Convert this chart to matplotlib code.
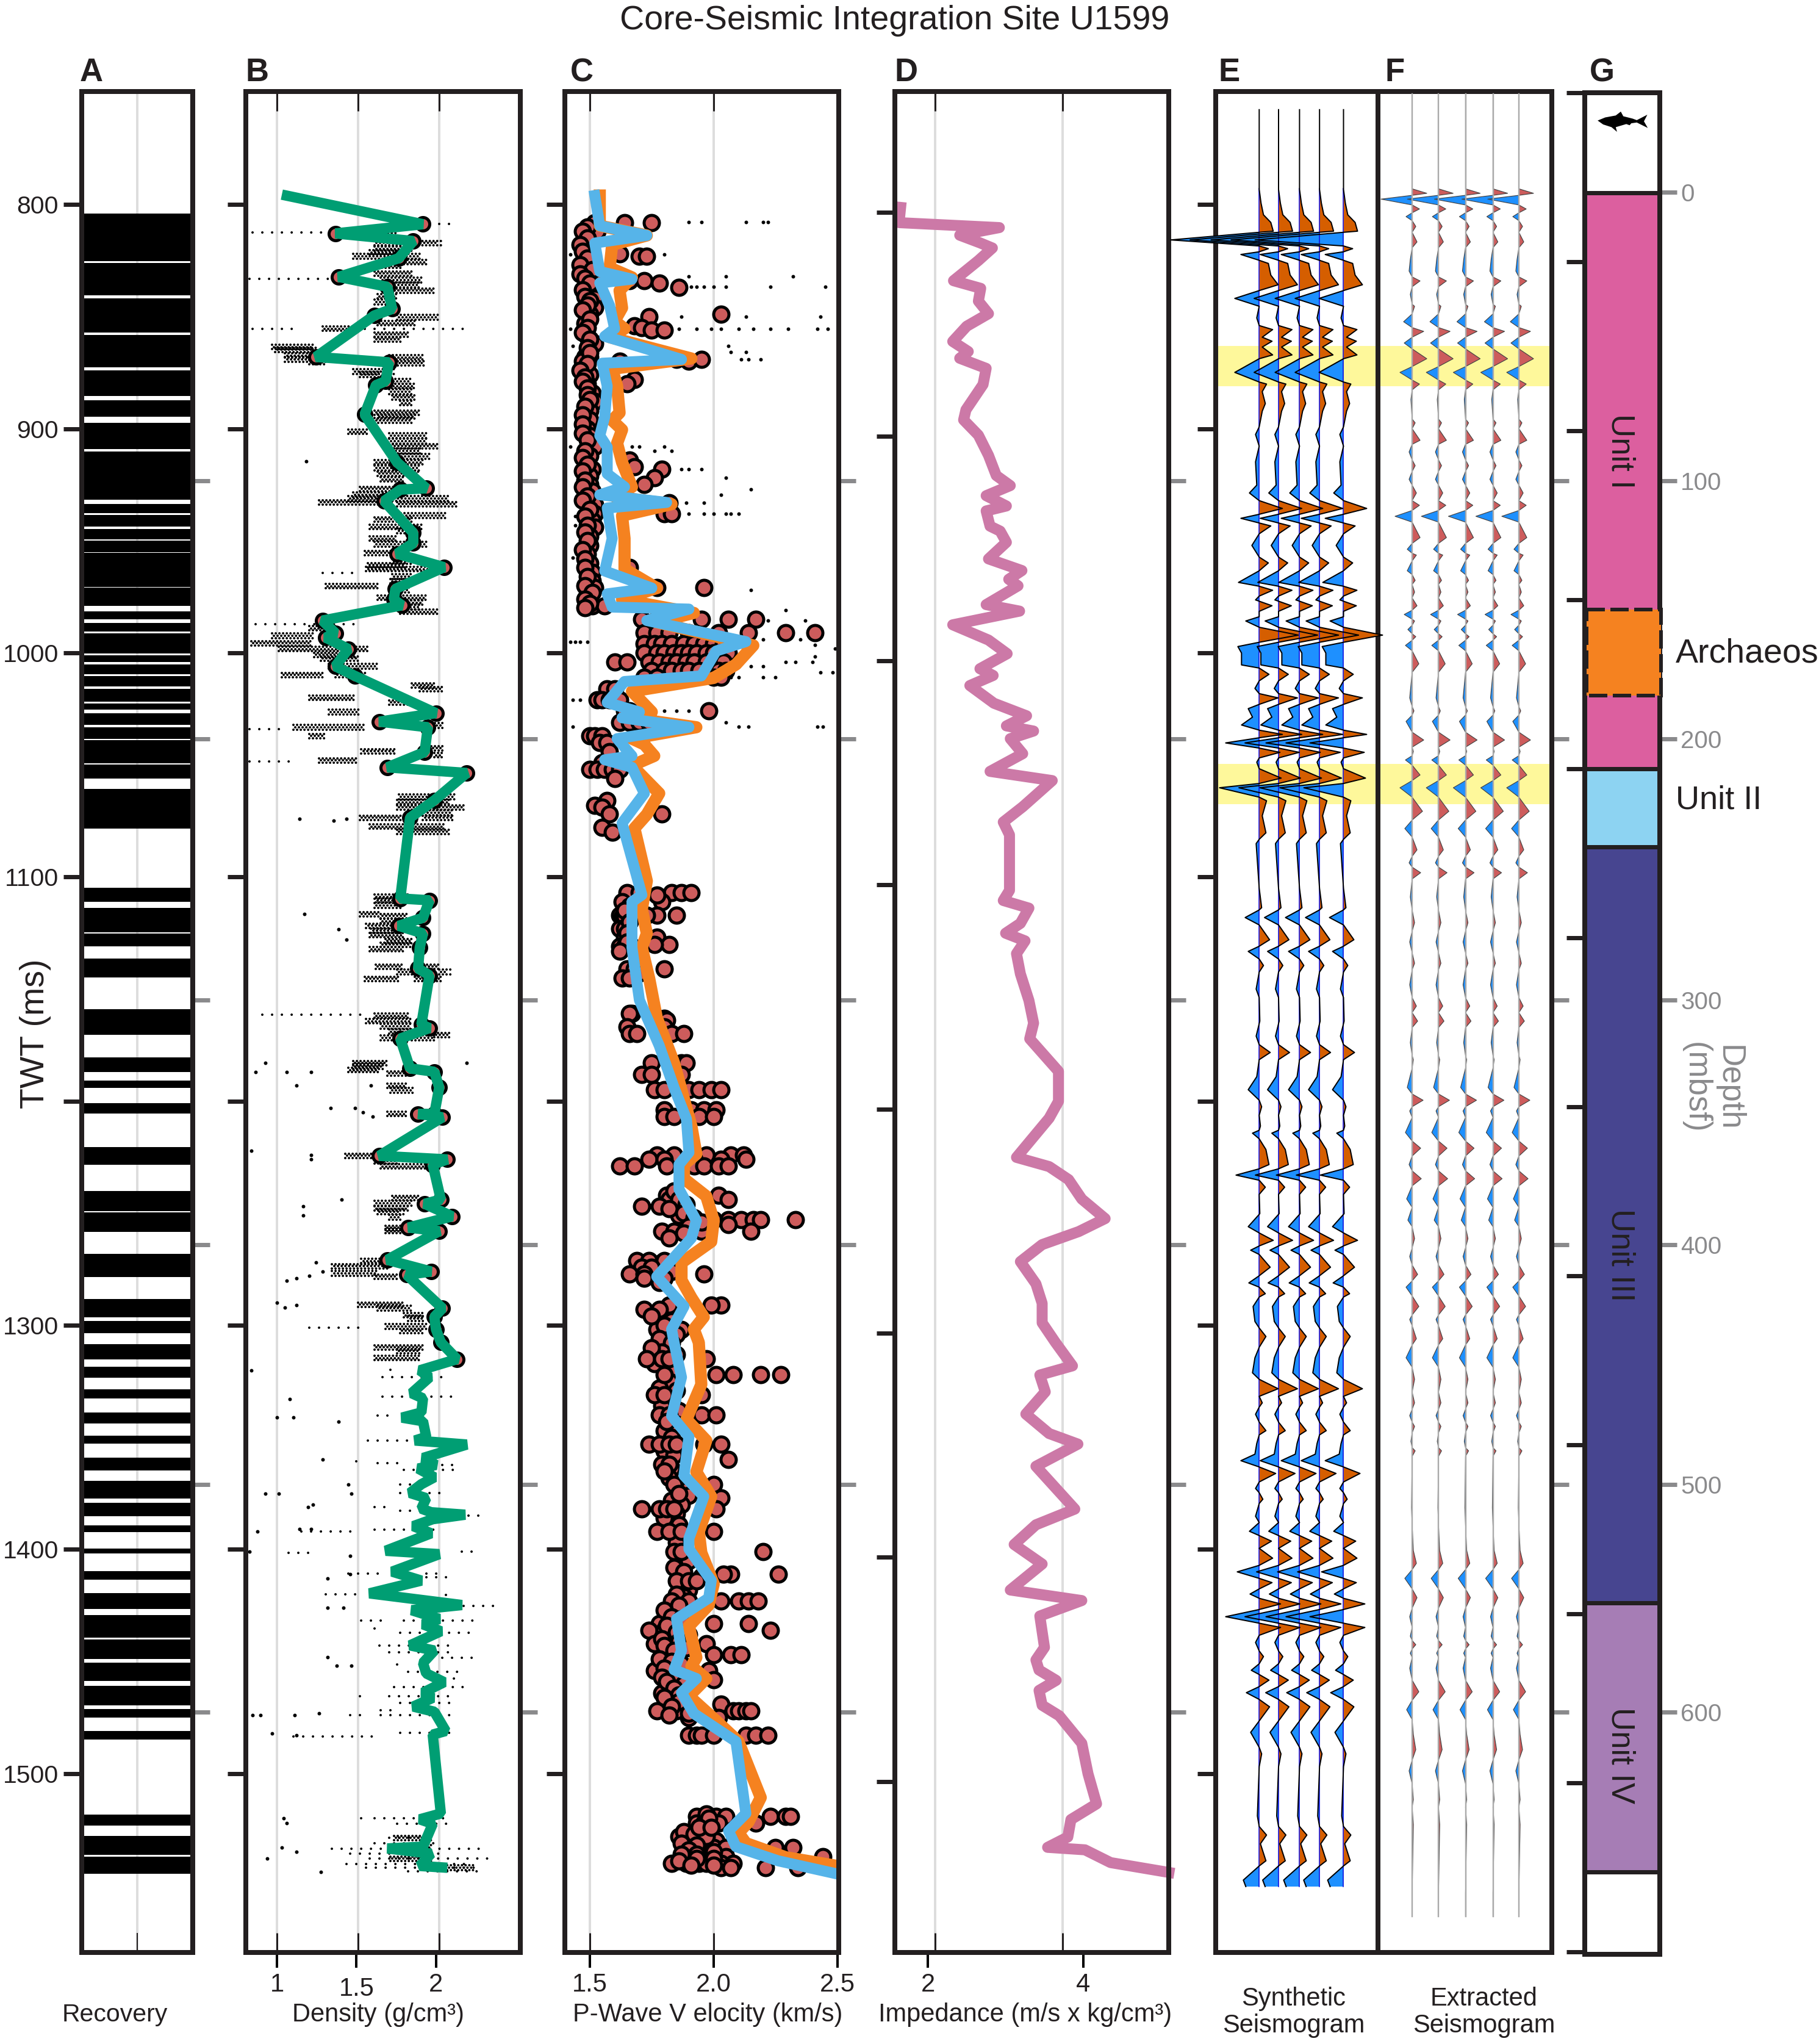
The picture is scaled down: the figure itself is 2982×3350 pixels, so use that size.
import numpy as np
import matplotlib
matplotlib.use("Agg")
import matplotlib.pyplot as plt
from matplotlib.patches import Rectangle, Polygon

plt.rcParams['font.family'] = ['Liberation Sans', 'DejaVu Sans']

# ---------- A: recovered intervals (top, bottom TWT ms)
recovery = [(804.0,825.2),(826.1,840.6),(841.9,857.1),(858.2,872.6),(874.0,885.5),(887.3,894.7),(897.4,909.2),(910.3,931.8),
(933.6,937.6),(938.5,943.7),(944.8,949.4),(950.0,955.2),(955.4,970.6),(970.8,979.1),(981.6,985.0),(986.6,990.4),(991.3,1000.4),
(1001.0,1004.2),(1005.1,1009.6),(1010.3,1015.0),(1016.2,1021.8),(1022.7,1025.2),(1027.0,1032.2),(1033.1,1038.5),(1039.0,1049.3),
(1049.8,1056.1),(1060.8,1078.4),(1104.8,1111.2),(1113.9,1124.7),(1125.2,1131.0),(1136.4,1144.8),(1159.0,1170.5),(1180.6,1186.9),
(1190.8,1194.2),(1200.9,1205.6),(1220.5,1228.5),(1240.2,1249.1),(1249.6,1258.2),(1268.1,1278.5),(1288.4,1296.5),(1298.0,1303.5),
(1308.5,1315.2),(1318.6,1323.3),(1328.5,1332.7),(1338.9,1343.9),(1349.3,1352.7),(1359.0,1364.7),(1369.4,1377.4),(1379.3,1385.2),
(1389.2,1392.3),(1399.6,1401.7),(1409.7,1413.4),(1419.4,1426.6),(1429.3,1439.4),(1440.2,1448.8),(1450.6,1458.7),(1460.8,1469.6),
(1471.2,1475.1),(1481.1,1484.7),(1518.3,1523.2),(1527.7,1536.3),(1537.0,1544.8)]

# ---------- B: density
density_twt = [795.6,808.8,812.9,816.3,824.0,832.3,836.7,846.6,849.5,868.0,870.4,878.8,880.6,893.7,915.0,926.6,927.2,932.3,946.5,951.1,955.8,961.8,971.5,976.2,978.8,985.6,991.2,993.2,998.3,1006.0,1010.3,1026.9,1030.7,1033.2,1044.3,1051.1,1053.6,
1065.8,1073.6,1109.6,1110.4,1118.2,1121.8,1125.2,1131.5,1140.8,1143.9,1165.8,1167.4,1172.1,1185.4,1186.9,1193.9,1205.7,1205.7,1207.2,1224.4,1226.0,1228.3,1243.9,1245.8,1251.4,1256.4,1258.0,1270.8,1276.0,1277.5,1292.4,1296.3,1301.8,
1307.6,1315.1,1320.1,1323.2,1330.3,1332.6,1338.9,1341.2,1342.8,1349.8,1351.4,1353.2,1359.2,1362.3,1363.9,1367.8,1370.9,1374.8,1377.1,1381.8,1383.4,1384.5,1386.5,1389.6,1392.8,1400.6,1402.1,1409.9,1413.9,1419.6,1424.8,1427.1,1431.0,1433.4,1436.5,1442.8,1445.1,1450.6,1455.3,1459.2,1463.9,1466.2,1470.1,1472.4,1481.0,1482.6,1517.8,1520.4,1522.4,1532.6,1533.4,1535.7,1541.2,1542.0]
density_val = [1.03,1.90,1.36,1.84,1.75,1.38,1.68,1.71,1.60,1.24,1.69,1.67,1.61,1.54,1.74,1.92,1.76,1.66,1.84,1.84,1.74,2.03,1.73,1.72,1.77,1.28,1.36,1.30,1.44,1.36,1.48,1.98,1.63,1.93,1.91,1.68,2.17,
1.97,1.82,1.76,1.94,1.90,1.75,1.90,1.88,1.87,1.94,1.89,1.94,1.76,1.82,1.97,2.00,1.97,1.87,2.02,1.63,2.05,1.96,2.01,1.91,2.08,1.81,2.00,1.68,1.95,1.80,2.02,1.97,1.98,
2.01,2.11,1.88,1.94,1.83,1.90,1.89,1.77,1.90,1.92,1.85,2.17,1.90,1.98,1.87,1.97,1.89,1.82,1.92,1.89,1.95,2.16,1.96,1.84,1.95,1.67,2.00,1.71,1.89,1.57,2.14,1.83,2.00,1.90,2.01,1.82,1.97,1.90,1.92,2.03,1.90,1.96,1.84,1.97,2.04,1.96,2.01,1.88,1.96,1.90,1.68,1.95,1.88,2.05]

density_dense = [(813.8,1.57,1.74),(817.2,1.60,2.01),(819.7,1.60,1.83),(821.4,1.57,1.78),(823.1,1.47,1.90),(825.7,1.69,1.92),(827.4,1.60,1.78),(830.8,1.60,1.85),(833.7,1.64,1.90),(835.9,1.69,1.88),(838.4,1.69,1.97),(841,1.62,1.74),(843.5,1.60,1.71),(850.3,1.74,2.00),(852.9,1.62,1.85),(855.4,1.28,1.47),(858,1.60,1.81),(860.2,1.60,1.78),(863.6,0.97,1.24),(864.8,0.99,1.24),(867.4,1.05,1.24),(869.1,1.05,1.34),(868.2,1.69,1.90),(870.4,1.20,1.31),(870.8,1.70,1.92),(874.5,1.47,1.72),(875.9,1.51,1.64),(878.9,1.64,1.83),(881,1.66,1.85),(883.5,1.69,1.85),(886.1,1.71,1.85),(888.6,1.76,1.84),(892.9,1.60,1.88),(894.6,1.62,1.86),(896.3,1.60,1.83),(901.4,1.44,1.56),(903.1,1.69,1.92),(905.6,1.67,1.92),(907.8,1.69,2.00),(909.9,1.70,1.90),(912.4,1.71,1.95),(915,1.60,1.90),(917.5,1.60,1.88),(920.1,1.62,1.88),(922.6,1.64,1.78),(926.9,1.51,1.90),(929.5,1.47,1.78),(931.2,1.44,2.07),(932.9,1.26,1.64),(933.7,1.74,2.11),(938.8,1.74,2.04),(940.5,1.60,1.83),(943.9,1.57,1.90),(945.6,1.74,1.90),(949,1.57,1.74),(951.6,1.60,1.92),(955.5,1.54,1.71),(959.2,1.71,1.83),(960.9,1.56,1.81),(962.6,1.55,1.95),(966,1.71,1.83),(968.1,1.70,1.83),(970.3,1.30,1.64),(972,1.72,1.83),(975.4,1.62,1.92),(977.6,1.78,1.90),(979.6,1.81,1.90),(981.7,1.76,2.00),
(989,1.20,1.36),(992.4,0.97,1.23),(995.8,0.84,1.22),(998.3,1.01,1.57),(1000.9,1.23,1.48),(1002.6,1.27,1.50),(1006,1.32,1.63),(1009.9,1.03,1.29),(1009.9,1.36,1.55),(1014.5,1.83,1.97),(1016.2,1.88,2.02),(1020.1,1.20,1.48),(1022.2,1.69,1.83),(1026.4,1.32,1.51),(1032.4,1.95,2.04),(1033.2,1.10,1.55),(1037.1,1.20,1.31),(1043.9,1.52,1.74),(1042.6,1.95,2.04),(1045.7,1.97,2.03),(1048,1.26,1.50),
(1064.3,1.75,2.11),(1066.6,1.74,2.07),(1069,1.74,2.17),(1071.3,1.85,2.09),(1073.6,1.51,1.78),(1073.6,1.90,2.09),(1077.5,1.57,2.03),(1079.9,1.74,2.07),(1108.8,1.60,1.81),(1110.4,1.61,1.78),(1112.7,1.60,1.78),(1116.6,1.51,1.64),(1117.4,1.64,1.81),(1119.7,1.64,1.78),(1121.8,1.55,1.76),(1124,1.58,1.76),(1126,1.57,1.78),(1128.6,1.67,1.83),(1130.2,1.64,1.83),(1132.2,1.57,1.78),(1140,1.61,1.78),(1140,1.88,2.00),(1142.4,1.74,1.90),(1142.4,2.00,2.07),(1145.5,1.54,1.76),(1145.5,1.85,2.02),(1161.9,1.60,1.81),(1164.3,1.55,1.83),(1166.6,1.64,1.83),(1169,1.69,1.85),(1170.5,1.97,2.07),(1171.8,1.64,1.74),(1171.8,1.83,1.98),(1183,1.47,1.69),(1184.6,1.47,1.67),(1186.1,1.44,1.64),(1187.7,1.68,1.81),(1193.2,1.68,1.81),(1195.2,1.70,1.85),(1205.7,1.68,1.81),(1224.4,1.42,1.60),(1226.8,1.60,1.74),(1229.1,1.64,1.95),(1243.2,1.71,1.88),(1245.5,1.60,1.83),(1247.9,1.60,1.81),(1249.4,1.62,1.78),(1251.8,1.69,1.78),(1256.5,1.67,1.83),(1258,1.67,1.81),(1271.3,1.52,1.69),(1273.7,1.34,1.68),(1276.8,1.34,1.62),(1278.3,1.60,1.74),(1290.8,1.50,1.78),(1292.4,1.62,1.83),(1295.5,1.78,1.90),(1297,1.81,1.91),(1300.5,1.67,1.92),(1302.5,1.76,1.91),(1309.9,1.60,1.90),(1311.5,1.74,1.90),(1314.6,1.60,1.88),(1528.7,1.72,1.95),(1533,1.70,1.95),(1538,1.70,1.96),(1542,1.98,2.22)]

density_sparse = [(808.8,2.00,2.07),(812.4,0.85,1.36),(833.3,0.83,1.36),(855.4,0.85,1.15),(855.4,1.54,2.15),(964.3,1.28,1.49),(987.3,0.87,1.50),(1034.1,0.83,1.05),(1048.5,0.83,1.08),(1161.5,0.91,1.55),(1301,1.20,1.53),
(1319.8,1.70,1.74),(1323.2,1.65,2.07),(1331.8,1.65,2.11),(1340.4,1.62,1.74),(1351.4,1.56,1.83),(1360.7,1.49,1.55),(1361.5,1.62,1.76),(1362.3,2.02,2.13),(1364.6,1.78,2.09),(1370.9,1.76,1.92),(1374.8,1.76,2.02),(1381,1.60,1.69),(1382.6,1.76,1.90),(1385,2.18,2.25),(1391.2,1.60,1.97),(1392,1.15,1.47),(1401.4,1.07,1.20),(1401,2.14,2.21),(1410.7,1.44,1.64),(1410.7,1.92,2.02),(1412.3,1.92,2.07),(1420.1,1.30,1.50),(1420.4,2.04,2.08),(1425.1,2.15,2.37),
(1431.8,1.52,1.67),(1431.8,1.78,2.21),(1435.3,1.60,1.64),(1437.3,1.76,2.24),(1442.8,1.63,2.09),(1445.9,1.69,2.07),(1448.2,2.02,2.24),(1451.3,1.74,1.78),(1454.5,1.81,2.15),(1457.6,1.97,2.15),(1461.5,1.72,2.18),(1465.4,1.51,1.56),(1465.4,1.69,2.09),(1468.5,1.76,2.11),(1471.7,1.64,1.76),(1474,1.45,1.55),(1474,1.64,2.09),(1481.8,1.76,2.10),(1483.4,1.10,1.64),
(1520,1.52,1.55),(1520,1.60,2.07),(1522.4,1.74,2.07),(1528.7,1.69,1.97),(1531,1.60,2.02),(1533.4,1.34,2.30),(1535.7,1.45,2.02),(1538,1.57,2.32),(1540.4,1.43,2.21),(1542,1.55,2.25),(1543.5,1.81,2.28)]

density_outliers = [(914.5,1.18),(1074,1.14),(1075,1.35),(1074,1.43),(1116.6,1.17),(1123.3,1.38),(1128,1.43),(1222,0.84),(1224,1.21),(1226,1.21),(1244,1.40),(1247,1.16),(1251,1.16),(1272,1.24),(1276,1.28),(1278,1.20),(1280,1.06),(1279,1.12),(1290,1.00),(1292,1.05),(1291,1.12),(1183,0.93),(1183,2.17),(1187,0.87),(1187,1.06),(1187,1.21),(1193,1.12),(1193,1.58),(1203,1.33),(1203,1.48),(1205,1.53),(1207,1.59),
(1320,0.84),(1333,1.08),(1341,1.00),(1341,1.10),(1343,1.38),(1360,1.28),(1371,1.44),(1375,0.93),(1375,1.01),(1375,1.46),(1381,1.19),(1380,1.22),(1392,0.88),(1391,1.14),(1391,1.21),(1401,0.83),(1403,1.45),(1411,1.45),(1413,1.31),(1426,1.31),(1426,1.41),(1448,1.31),(1452,1.37),(1452,1.46),(1474,0.85),(1474,0.90),(1474,1.11),(1473,1.26),(1482,0.97),(1483,1.12),(1520,1.04),(1522,1.06),(1533,1.03),(1535,1.12),(1538,0.94),(1544,1.27)]

# ---------- C: velocity
blue_twt = [796,809.5,813.8,817.2,829.9,833.3,835.0,845.2,855.4,858.8,869.1,870.8,881.0,894.6,903.1,908.2,920.1,926.0,929.5,932.9,935.4,949.0,963.5,971.1,973.7,979.6,980.5,985.6,995.0,999.2,1010.3,1012.8,1022.2,1026.4,1029.0,1033.2,1038.3,1046.0,1047.7,1051.1,1062.7,
1076.0,1108.0,1111.1,1131.5,1154.9,1175.2,1194.0,1208.0,1222.9,1228.3,1239.3,1253.3,1261.1,1278.3,1291.6,1301.8,1307.7,
1323.2,1340.4,1349.8,1367.0,1376.4,1395.1,1399.8,1413.9,1421.7,1431.0,1445.1,1453.7,1457.6,1463.9,1473.2,1485.7,1517.8,1525.6,1532.6,1538.9,1544.8]
blue_val = [1.52,1.54,1.73,1.52,1.54,1.67,1.54,1.58,1.60,1.56,1.87,1.55,1.57,1.56,1.54,1.57,1.57,1.64,1.54,1.81,1.57,1.59,1.56,1.75,1.57,1.59,1.90,1.73,2.13,2.01,1.95,1.64,1.57,1.70,1.63,1.90,1.61,1.67,1.56,1.67,1.72,
1.63,1.71,1.67,1.67,1.70,1.78,1.84,1.89,1.90,1.86,1.86,1.93,1.91,1.77,1.88,1.83,1.84,
1.87,1.83,1.90,1.88,1.96,1.90,1.90,1.99,1.98,1.85,1.87,1.84,1.93,1.87,1.92,2.09,2.13,2.06,2.09,2.26,2.50]
orange_twt = [796,809.5,813.8,818,828.2,832.5,838.4,846.1,852.0,855.4,859.2,868.7,873.3,881.0,892.9,896.3,900.5,906.5,915.0,926.0,930.3,933.7,938.8,949.0,962.6,971.1,976.2,982.2,986.4,996.7,1005.2,1011.2,1017.2,1026.4,1029.0,1033.2,1038.3,1040.9,1046.0,1050.3,1062.7,
1072.1,1078.3,1101.8,1114.3,1125.2,1131.5,1145.5,1162.7,1183.0,1211.1,1223.6,1228.3,1234.6,1242.4,1253.3,1262.7,1272.1,1279.9,1287.7,1296.3,1301.8,1307.7,
1326.4,1342.0,1351.4,1365.4,1376.4,1392.0,1401.4,1415.4,1424.8,1434.2,1448.2,1452.1,1457.6,1465.4,1476.4,1485.7,1510.7,1521.7,1526.4,1531.0,1537.3,1541.2]
orange_val = [1.54,1.54,1.73,1.59,1.58,1.67,1.62,1.63,1.60,1.64,1.58,1.91,1.59,1.61,1.62,1.59,1.63,1.61,1.63,1.67,1.60,1.83,1.63,1.64,1.64,1.77,1.63,1.92,1.77,2.16,2.09,2.00,1.67,1.75,1.66,1.93,1.67,1.72,1.76,1.67,1.78,
1.73,1.68,1.73,1.71,1.73,1.71,1.74,1.77,1.84,1.91,1.93,1.88,1.88,1.97,2.00,1.99,1.87,1.87,1.91,1.96,1.92,1.94,
1.95,1.89,1.97,1.93,1.99,1.94,1.95,2.00,1.98,1.90,1.93,1.91,1.97,1.90,2.01,2.10,2.19,2.14,2.10,2.13,2.29,2.50]

velocity_points = [(808,1.52),(808,1.64),(808,1.75),(812,1.53),(814,1.65),(817,1.48),(820,1.50),(822,1.62),(823,1.70),(823,1.73),(826,1.47),(828,1.49),(828,1.51),(830,1.48),(832,1.52),(834,1.66),(834,1.72),(835,1.78),(837,1.49),(837,1.86),(840,1.50),(842,1.52),(846,1.52),(849,1.50),(850,1.74),(849,2.03),(853,1.48),(854,1.68),(855,1.71),(856,1.75),(856,1.80),(859,1.49),(862,1.52),(868,1.48),(868,1.50),(870,1.47),(870,1.62),(869,1.85),(870,1.90),(869,1.95),(873,1.48),(876,1.50),(878,1.68),(880,1.65),(880,1.49),(884,1.51),(888,1.52),(892,1.50),(896,1.50),(900,1.49),(903,1.50),(906,1.51),(908,1.52),(912,1.50),(914,1.66),(917,1.68),(918,1.51),(921,1.50),(918,1.79),(922,1.76),(925,1.72),(925,1.50),(928,1.51),(933,1.82),(934,1.52),(938,1.52),(938,1.80),(938,1.83),(941,1.51),(944,1.52),(948,1.50),(952,1.50),(956,1.49),(960,1.50),(962,1.66),(964,1.51),(968,1.51),(971,1.77),(971,1.52),(971,1.96),(974,1.49),(979,1.51),(979,1.56),
(810,1.49),(812,1.47),(815,1.49),(818,1.46),(821,1.47),(824,1.49),(827,1.46),(829,1.51),(831,1.46),(833,1.48),(835,1.50),(838,1.47),(841,1.48),(843,1.50),(845,1.49),(847,1.47),(851,1.50),(855,1.49),(857,1.47),(860,1.50),(864,1.49),(866,1.50),(871,1.49),(874,1.46),(877,1.48),(879,1.47),(882,1.49),(885,1.49),(887,1.50),(890,1.48),(894,1.47),(898,1.47),(902,1.47),(905,1.49),(910,1.48),(913,1.47),(916,1.49),(919,1.47),(923,1.48),(926,1.47),(930,1.49),(932,1.47),(936,1.50),(939,1.48),(943,1.49),(946,1.48),(950,1.49),(954,1.47),(958,1.48),(962,1.48),(966,1.49),(970,1.48),(973,1.51),(976,1.48),(978,1.50),(980,1.48),
(985,1.71),(985,1.77),(985,1.95),(985,2.06),(985,2.17),(991,1.72),(991,1.77),(991,1.82),(991,1.90),(991,2.02),(991,2.14),(991,2.29),(991,2.41),
(996,1.72),(996,1.76),(996,1.79),(996,1.83),(996,1.88),(996,1.92),(996,1.96),(996,2.00),(996,2.04),
(1000,1.72),(1000,1.77),(1000,1.80),(1000,1.84),(1000,1.87),(1000,1.90),(1000,1.93),(1000,1.97),(1000,2.00),(1000,2.03),(1000,2.06),
(1004,1.60),(1004,1.65),(1004,1.74),(1004,1.78),(1004,1.82),(1004,1.85),(1004,1.89),(1004,1.92),(1004,1.97),(1004,2.00),(1004,2.04),
(1008,1.75),(1008,1.80),(1008,1.83),(1008,1.87),(1008,1.90),(1008,1.94),(1008,2.02),(1008,2.05),(1011,1.72),(1011,1.77),(1011,2.00),(1011,2.03),
(1016,1.57),(1016,1.60),(1021,1.53),(1021,1.55),(1021,1.58),(1021,1.62),(1026,1.98),(1026,1.64),(1026,1.66),(1031,1.62),(1031,1.66),(1031,1.70),(1031,1.74),(1037,1.50),(1037,1.52),(1037,1.55),(1040,1.54),(1040,1.57),(1044,1.58),(1049,1.55),(1052,1.50),(1052,1.53),(1052,1.56),(1052,1.59),(1052,1.62),(1056,1.60),
(1066,1.57),(1068,1.52),(1069,1.55),(1072,1.58),(1072,1.79),(1078,1.55),(1080,1.59),
(1107,1.65),(1107,1.70),(1107,1.83),(1107,1.87),(1107,1.91),(1111,1.63),(1111,1.79),(1117,1.85),(1117,1.77),(1117,1.73),(1117,1.62),(1118,1.63),(1118,1.64),(1123,1.62),(1123,1.64),(1127,1.64),(1127,1.77),(1130,1.82),(1130,1.76),(1131,1.62),(1131,1.64),(1131,1.67),(1141,1.65),(1141,1.68),(1141,1.80),(1145,1.63),(1145,1.66),
(1113,1.66),(1115,1.64),(1120,1.66),(1125,1.65),(1129,1.65),(1133,1.62),(1143,1.70),(1108,1.77),
(1161,1.67),(1161,1.66),(1163,1.80),(1164,1.81),(1167,1.65),(1167,1.80),(1170,1.66),(1170,1.69),(1170,1.83),(1170,1.88),(1183,1.75),(1183,1.87),(1183,1.89),(1188,1.71),(1188,1.75),(1188,1.87),(1195,1.76),(1195,1.80),(1195,1.90),(1195,1.94),(1195,1.99),(1195,2.03),
(1204,1.80),(1204,1.91),(1204,1.96),(1204,2.01),(1207,1.80),(1207,1.84),(1207,1.94),(1207,2.00),
(1224,1.77),(1224,1.84),(1224,1.97),(1224,2.07),(1224,2.12),(1226,1.74),(1226,1.80),(1226,1.92),(1226,2.03),(1226,2.13),(1229,1.62),(1229,1.68),(1229,1.81),(1229,1.92),(1229,1.96),(1229,2.02),(1229,2.06),
(1242,1.81),(1242,2.02),(1244,2.06),(1244,1.82),(1247,1.71),(1247,1.78),(1247,1.85),(1251,1.86),(1253,2.00),(1253,2.06),(1253,2.11),(1253,2.16),(1253,2.19),(1253,2.33),(1255,2.06),(1258,1.79),(1258,1.84),(1258,1.95),(1258,2.15),
(1240,1.84),(1244,1.86),(1246,1.89),(1248,1.82),(1250,1.88),(1252,1.92),(1254,1.95),(1256,1.90),(1259,1.88),(1261,1.82),(1272,1.79),(1275,1.76),(1276,1.83),(1281,1.78),
(1271,1.69),(1271,1.74),(1271,1.80),(1274,1.71),(1274,1.75),(1277,1.66),(1277,1.72),(1277,1.96),(1279,1.72),(1279,1.80),(1291,1.82),(1291,2.03),(1291,1.99),(1293,1.72),(1293,1.78),(1302,1.77),(1302,1.81),(1302,1.87),
(1296,1.75),(1298,1.83),(1300,1.80),(1304,1.85),(1306,1.78),(1308,1.83),(1312,1.79),(1313,1.85),(1317,1.76),(1319,1.84),(1325,1.82),(1328,1.78),(1329,1.85),(1334,1.83),(1336,1.79),(1338,1.86),(1344,1.85),(1347,1.80),(1350,1.83),(1356,1.80),(1358,1.84),(1364,1.83),(1368,1.82),(1373,1.90),(1376,1.90),(1378,1.83),(1380,1.87),(1384,1.85),(1386,1.80),(1389,1.86),(1394,1.88),(1397,1.85),(1403,1.86),(1405,1.90),(1408,1.84),(1410,1.88),(1412,1.95),(1416,1.88),(1418,1.90),(1421,1.88),
(1310,1.75),(1315,1.73),(1315,1.79),(1315,1.82),(1315,1.97),(1322,1.80),(1322,2.01),(1322,2.08),(1322,2.19),(1322,2.27),(1331,1.76),(1331,1.80),(1331,1.95),(1340,1.78),(1340,1.82),(1340,1.95),(1340,2.01),(1343,1.81),(1353,1.74),(1353,1.78),(1353,1.82),(1353,1.85),(1353,1.96),(1353,2.03),(1360,2.06),(1362,1.79),(1362,1.82),(1365,1.80),(1371,1.84),(1371,2.00),(1375,1.86),(1377,2.03),(1382,1.78),(1382,1.71),(1382,1.81),(1382,1.84),(1382,2.01),(1392,1.77),(1392,1.82),(1392,1.87),(1392,2.00),(1401,1.84),(1401,1.87),(1401,2.20),(1411,2.26),(1411,2.07),(1411,2.04),(1414,1.85),(1414,1.90),(1414,1.93),
(1420,1.85),(1423,1.83),(1423,1.90),(1423,2.03),(1423,2.10),(1423,2.14),(1423,2.18),(1433,1.78),(1433,2.00),(1433,2.14),(1436,2.23),(1436,1.74),(1436,1.80),(1442,1.76),(1442,1.83),(1442,1.97),(1447,1.81),(1447,2.00),(1447,2.07),(1447,2.11),(1454,1.76),(1454,1.82),(1454,1.98),(1458,2.00),(1458,1.84),(1464,1.79),(1464,1.83),(1469,1.82),(1469,2.03),(1472,1.77),(1472,1.85),(1472,2.08),(1472,2.10),(1472,2.13),(1472,2.15),(1475,1.90),(1475,2.02),(1483,1.90),(1483,1.93),(1483,1.95),(1483,2.00),(1483,2.13),(1483,2.17),(1483,2.22),
(1425,1.86),(1427,1.80),(1430,1.83),(1431,1.87),(1434,1.81),(1437,1.85),(1438,1.90),(1440,1.79),(1441,1.86),(1443,1.80),(1444,1.89),(1445,1.84),(1449,1.78),(1450,1.83),(1451,1.87),(1453,1.80),(1456,1.85),(1457,1.79),(1459,1.81),(1460,1.88),(1462,1.84),(1465,1.86),(1466,1.80),(1468,1.86),(1470,1.83),(1473,1.90),(1474,1.82),
(1519,1.93),(1519,2.01),(1519,2.05),(1519,2.23),(1519,2.29),(1519,2.31),(1522,1.93),(1522,1.96),(1522,2.17),(1522,2.02),(1528,1.86),(1530,1.90),(1530,1.94),(1530,2.01),(1533,1.94),(1533,1.97),(1533,2.00),(1533,2.05),(1533,2.32),(1533,2.25),(1537,1.90),(1537,1.96),(1537,2.05),(1537,2.44),(1540,1.83),(1540,1.89),(1540,1.94),(1540,1.97),(1540,2.03),(1540,2.08),(1542,2.03),(1542,2.07),(1542,2.21),(1542,2.34),
(1526,1.88),(1527,1.92),(1528,1.97),(1531,1.87),(1532,1.93),(1534,1.90),(1535,2.00),(1536,1.93),(1536,1.87),(1538,1.93),(1538,2.00),(1539,1.86),(1541,1.91),(1541,2.00),(1518,1.97),(1520,1.98),(1524,1.94),(1524,1.99)]

velocity_dots = [(807.8,1.90),(807.8,1.95),(807.8,2.13),(807.8,2.20),(807.8,2.22),(822.3,1.42),(822.3,1.80),(832,1.90),(832,2.05),(832,2.32),(836.7,1.91),(836.7,1.93),(836.7,1.96),(836.7,2.00),(836.7,2.05),(836.7,2.23),(836.7,2.45),(850,1.87),(850,2.13),(850,2.43),(855.4,1.42),(855.4,1.86),(855.4,1.93),(855.4,1.99),(855.4,2.03),(855.4,2.10),(855.4,2.16),(855.4,2.23),(855.4,2.30),(855.4,2.42),(855.4,2.46),(863,1.43),(863,2.06),(865.7,2.07),(865.7,2.13),(869,2.11),(869,2.14),(869,2.19),(908,1.42),(908,1.67),(908,1.70),(908,1.80),(910,1.76),(910,1.83),(918,1.87),(918,1.90),(918,1.95),(922,2.05),(927,2.15),(929.5,2.03),(933,1.89),(933,1.96),(938,1.90),(938,1.96),(938,2.00),(938,2.05),(938,2.07),(938,2.10),(939,1.44),(943,1.44),(957.5,1.43),(957.5,1.45),(972,2.15),(981,2.29),(985.6,2.22),(985.6,2.37),(994,2.35),(994,2.20),(995,1.42),(995,1.44),(995,1.46),(995,1.49),(996.6,2.41),(998,2.49),(1001.7,2.41),(1004,2.29),(1004,2.33),(1004,2.40),(1006,2.15),(1006,2.20),(1008.6,2.43),(1008.6,2.48),(1011,2.07),(1011,2.10),(1011,2.20),(1011,2.25),(1021,1.43),(1021,1.46),(1026,1.80),(1026,1.85),(1026,1.90),(1031,2.05),(1033,1.43),(1033,2.10),(1033,2.14),(1033,2.42),(1033,2.44)]

# ---------- D: impedance
impedance_twt = [797.8,804.6,806.8,810.2,813.6,815.9,821.5,830.5,833.9,839.6,845.2,850.8,857.6,862.1,865.1,869.6,876.8,888.1,892.6,899.4,908.4,917.4,921.9,926.4,931.0,933.2,940.0,942.2,947.2,954.6,959.8,963.7,966.6,975.0,977.9,984.0,990.8,996.9,1003.6,1006.6,1011.1,1019.0,1024.6,1029.1,1031.4,1034.8,1041.5,1049.4,1053.5,1065.2,1072.0,1077.7,1102.5,1107.0,1110.4,1117.2,1121.6,1125.0,1130.7,1139.7,1151.6,
1161.7,1168.7,1183.2,1196.6,1204.1,1221.6,1225.7,1231.5,1240.2,1248.9,1254.7,1260.5,1268.1,1278.0,1286.7,1295.4,1304.1,1314.6,1318.7,1326.2,1336.1,1344.8,1349.5,1359.4,1378.5,1385.5,1394.3,1403,1414.6,1419.3,1426.2,
1440.2,1445.8,1450.3,1454.9,1459.4,1466,1470.7,1483,1496.6,1510,1517,1524.8,1529.4,1530.5,1536.2,1540.6]
impedance_val = [1.65,1.63,2.92,2.41,2.67,2.83,2.65,2.33,2.68,2.65,2.78,2.50,2.32,2.52,2.41,2.75,2.71,2.49,2.46,2.65,2.78,2.88,3.06,2.75,3.01,2.75,2.80,2.93,3.01,2.78,3.21,3.04,3.16,2.75,3.18,2.32,2.78,3.02,2.67,2.84,2.54,2.85,3.27,3.01,3.36,3.06,3.22,2.80,3.60,3.22,2.97,3.05,3.05,2.97,3.30,3.19,3.00,3.25,3.14,3.19,3.30,
3.36,3.31,3.68,3.68,3.56,3.14,3.56,3.81,3.98,4.28,3.94,3.47,3.19,3.39,3.47,3.47,3.64,3.86,3.44,3.51,3.26,3.56,3.93,3.39,3.89,3.39,3.11,3.47,3.06,3.98,3.44,
3.50,3.39,3.43,3.65,3.43,3.47,3.69,3.98,4.06,4.17,3.84,3.80,3.54,4.02,4.35,5.10]

# ---------- E: synthetic seismogram, (TWT, amplitude), one trace repeated
synthetic = [(757.7,0),(793.3,0),(799.4,3),(804.6,7),(808,19),(811.9,23),(812.4,0),(815.8,-145),(818.5,0),(819.7,15),(821.1,0),(822.3,-30),(824.9,0),(826.3,15),(831.5,19),(835.8,31),(838.4,0),(841.9,-40),(845.4,0),(850.6,-4),(854,0),(855.8,22),(859.2,5),(861,21),(863.6,5),(867.1,22),(868.8,0),(874.9,-40),(879.2,0),(880.1,12),(883.5,5),(888.8,10),(892.2,5),(899.2,0),(902.6,-6),(907.8,0),(914.8,-6),(925.2,-4),(928.7,-16),(932.1,0),(935.6,38),(938.2,0),(940,-30),(943.4,19),(946.9,0),(952.1,-12),(957.3,0),(959.9,15),(963.4,0),(968.6,-34),(970.3,0),(972.1,22),(974.7,0),(976.4,-6),(979,21),(981.5,0),
(983.9,0),(985.8,-22),(988.6,0),(992.1,64),(995.3,0),(997.2,-35),(1000.1,-29),(1005.4,-29),(1006.8,0),(1009.6,16),(1012.5,0),(1015.9,-7),(1018.2,0),(1020.1,31),(1023,0),(1024.9,-18),(1028.7,-11),(1032.2,-29),(1034.5,0),(1036.4,38),(1037.9,0),(1040.2,-55),(1042.5,0),(1044.4,34),(1046.9,0),(1048.8,-4),(1051.7,0),(1055.9,36),(1058.3,0),(1060.2,-65),(1064.4,0),(1066,12),(1072.7,5),(1080.3,11),(1083.2,0),(1085.1,-5),(1105.1,0),(1113.7,4),(1114.7,0),(1118.1,-23),(1121.4,0),(1128,17),(1130.9,0),(1133.2,-18),(1136.6,0),(1139.5,7),(1142.4,0),(1150,-5),(1153.8,0),(1164.3,1),(1171,-5),(1174.8,0),(1178.3,18),(1181.5,0),(1189.1,-4),(1194.9,-18),(1199.6,0),(1202.5,4),(1206.3,0),(1211.1,2),(1213,0),(1214.3,-11),(1216.8,0),(1221.6,11),(1228.3,16),(1230.2,0),(1233,-38),(1235.3,0),(1238.4,10),(1241.6,0),(1250.2,1),(1256,-18),(1258.8,0),(1262.1,23),(1264.6,0),(1266.5,-14),(1268.4,0),(1274.1,18),(1277.9,0),
(1281.1,-17),(1283,0),(1285.9,10),(1287.4,0),(1291.6,-10),(1298.3,-7),(1301.2,0),(1305,11),(1309.8,0),(1314.5,-7),(1321.2,-11),(1324.1,0),(1328.3,31),(1331.7,0),(1334.6,5),(1336.5,0),(1339.7,-6),(1343.2,0),(1347,11),(1348.9,0),(1352.7,-4),(1357.5,-7),(1360.4,-30),(1363.2,0),(1366.1,27),(1369.9,0),(1372.8,-6),(1374.7,0),(1377.6,6),(1379.5,0),(1385.2,-6),(1388,0),(1391.9,-16),(1393.8,0),(1396.3,20),(1399.5,0),(1403.9,22),(1407.1,0),(1410,-36),(1412.9,0),(1414.8,21),(1417.6,0),(1419.9,-15),(1421.8,0),(1424.3,35),(1426.8,0),(1430,-55),(1432.9,0),(1434.8,35),(1438.3,0),(1441.5,-6),(1445.3,0),(1447.8,7),(1451,0),(1453.9,-13),(1455.8,0),(1458.3,16),(1461.2,0),(1463.9,-21),(1466.9,0),(1470.2,17),(1476.5,0),(1481.6,-14),(1488.3,0),(1491.2,4),(1496.9,0),(1518.9,-3),(1523.6,0),(1527.4,12),(1531.3,2),(1538.9,11),(1541.2,0),(1547.5,-26),(1550.4,-22)]

# ---------- F: extracted seismogram, (TWT, amplitude), one trace repeated
extracted = [(750.8,0),(793,0),(795,24),(795.9,0),(797.6,-51),(800.2,0),(802,12),(803.7,0),(805.4,-10),(807.2,0),(809.8,6),(812.4,0),(816.7,8),(819.3,0),(824.5,-3),(829.7,-5),(832.3,0),(834.1,13),(836.7,0),(840.1,-3),(844.5,0),(845.4,4),(848.8,0),(852.3,-14),(854.9,0),(856.6,19),(859.2,0),(861.8,-13),(864.4,0),(868.8,24),(872.3,0),(874.9,-20),(878.3,0),(880.1,12),(882.7,0),(887,-2),(895.7,0),(897.4,5),(900,0),(905.2,13),(907,0),(910.4,-5),(913.9,0),(916.5,5),(919.1,0),(922.6,-5),(925.2,0),(928.7,7),(932.1,0),(934.2,12),(936.5,0),(939.1,-28),(941.7,0),(948.6,13),(951.2,0),(953.8,-8),(955.6,0),(956.4,7),(959,0),(963.4,-8),(965.1,0),(967.7,5),(969.5,0),(972.9,4),(975.5,0),(979,8),(981,0),
(982.9,-13),(985,0),(985.8,4),(987.7,0),(989.6,-7),(991.5,0),(992.8,6),(994.4,0),(996.7,-11),(999.1,0),(1004.9,11),(1008.7,0),(1020.1,-4),(1024,0),(1025.9,3),(1027.8,0),(1030.6,-10),(1035.4,0),(1038.9,19),(1042.1,0),(1044,2),(1045.9,0),(1047.8,-11),(1050.1,0),(1054.5,13),(1057,0),(1060.2,-20),(1064.4,0),(1070.7,17),(1074.6,0),(1078.4,-12),(1082.2,0),(1087.9,8),(1090.8,0),(1093.7,-5),(1095.6,0),(1098.1,14),(1100.9,0),(1108.9,-3),(1114.7,0),(1120.4,4),(1124.2,0),(1129,-4),(1133.8,0),(1138.5,4),(1141.4,0),(1148.1,-4),(1153.8,0),(1157.6,7),(1160.5,0),(1164.3,9),(1167.2,0),(1173.9,-3),(1179.6,0),(1181.5,2),(1185.3,0),(1193.9,-8),(1196.8,0),(1199.6,18),(1202.5,0),(1204.4,-4),(1207.3,0),(1214,-11),(1217.8,0),(1221,14),(1224.5,0),(1228.3,-5),(1231.1,0),(1234.6,15),(1237.8,0),(1243.6,-9),(1247.4,0),(1253.1,-7),(1256,0),(1261.3,4),(1265.5,0),(1269.3,-4),(1273.1,0),(1277.3,9),
(1280.2,0),(1283,-10),(1286.9,0),(1291.6,11),(1295.4,0),(1297.4,-4),(1300.2,0),(1306,7),(1308.8,0),(1314.5,-10),(1318.7,0),(1324.1,4),(1329.8,0),(1334.6,4),(1337.5,0),(1340.3,-4),(1343.2,0),(1345.1,4),(1348,0),(1351.8,-2),(1354.6,0),(1356,5),(1358.5,0),(1381.4,-1),(1389,0),(1400.5,2),(1406.2,7),(1409,0),(1412.9,-12),(1417.6,0),(1421.5,8),(1426.2,0),(1430,-4),(1434.8,0),(1438.7,-3),(1440.6,0),(1442.5,6),(1444.4,0),(1446.3,-3),(1448.2,0),(1453,-4),(1458.3,0),(1463.5,11),(1467.3,0),(1471.5,-9),(1475.9,0),(1482.6,2),(1489.3,6),(1494,0),(1498.8,-5),(1504.5,0),(1511.6,2),(1515,0),(1522.7,2),(1553.2,0),(1563.7,0)]

synthetic_offsets = [71.3, 103.0, 137.4, 170.2, 209.5]
extracted_offsets = [56.0, 99.2, 143.5, 188.5, 231.0]

# ---------- G: units (top, bottom TWT)
unit_names = ['Unit I', 'Unit II', 'Unit III', 'Unit IV']
unit_tops = [794.8, 1051.8, 1086.6, 1423.8]
unit_bottoms = [1051.8, 1086.6, 1423.8, 1543.9]
unit_colors = ['#DC5F9F', '#8DD3F2', '#474590', '#A67DB5']
archaeos_span = (980.7, 1019.0)
highlight_bands = [(863, 881), (1049.5, 1067.5)]

twt_ticks = [800, 900, 1000, 1100, 1200, 1300, 1400, 1500]
twt_labels = ['800', '900', '1000', '1100', '', '1300', '1400', '1500']
depth_labels = [0, 100, 200, 300, 400, 500, 600]
depth_twt = [794.6, 923.2, 1038.5, 1155, 1264, 1371, 1472.6]
g_ticks = [750.2, 825.6, 901, 976.4, 1051.8, 1127.2, 1202.6, 1278, 1353.4, 1428.8, 1504, 1579.4]
density_grid = [1, 1.5, 2]
density_ticks = [1, 1.49, 1.98]
velocity_grid = [1.5, 2.0, 2.5]
impedance_grid = [2.09, 3.73]
impedance_ticks = [2, 4]

W, H = 2982, 3350
DPI = 100
INK = '#231F20'
GREY = '#8A8A8C'
GRID = '#DDDDDD'
px = 72 / DPI  # points per pixel

fig = plt.figure(figsize=(W / DPI, H / DPI), dpi=DPI, facecolor='white')

def panel(left, right, top=150, bottom=3200, z=1):
    ax = fig.add_axes([left / W, 1 - bottom / H, (right - left) / W, (bottom - top) / H], zorder=z)
    for s in ax.spines.values():
        s.set_linewidth(8 * px)
        s.set_color(INK)
    return ax

YLIM = (1579.8, 749.6)
YLIM_D = (1576.3, 746.1)

def y_axis(ax, ylim=YLIM, shift=0, labels=False, grey=True):
    ax.set_ylim(*ylim)
    ax.set_yticks(twt_ticks)
    ax.set_yticklabels(twt_labels if labels else [])
    ax.tick_params(axis='y', which='major', direction='out', left=True, right=False,
                   length=30 * px, width=7 * px, color=INK, labelsize=29.5, labelcolor=INK, pad=8 * px)
    if grey:
        # the panels carry the depth ticks from 100 mbsf down; only G has the 0 tick
        ax.set_yticks([d + shift for d in depth_twt[1:]], minor=True)
        ax.tick_params(axis='y', which='minor', direction='out', left=False, right=True,
                       length=28 * px, width=7 * px, color=GREY)

def x_axis(ax, grid, ticks, labels, pads=None):
    ax.xaxis.remove_overlapping_locs = False
    ax.set_xticks(grid)
    ax.set_xticklabels([])
    ax.tick_params(axis='x', which='major', direction='in', top=True, bottom=True,
                   length=32 * px, width=3 * px, color=INK)
    ax.set_xticks(ticks, minor=True)
    ax.set_xticklabels(labels, minor=True)
    ax.tick_params(axis='x', which='minor', direction='out', top=False, bottom=True,
                   length=25 * px, width=4 * px, color='black', labelsize=30, labelcolor=INK, pad=8 * px)
    if pads:
        for tk, p in zip(ax.xaxis.get_minor_ticks(), pads):
            tk.set_pad(p)
    for g in grid:
        ax.axvline(g, color=GRID, lw=4 * px, zorder=0.5)

# ---- A
ax = panel(134, 316)
ax.set_xlim(0, 1)
y_axis(ax, labels=True)
ax.set_xticks([0.5])
ax.set_xticklabels([])
ax.tick_params(axis='x', which='major', direction='in', top=False, bottom=True, length=32 * px, width=2 * px, color=INK)
for g in (0.5, 0.985):
    ax.axvline(g, color=GRID, lw=4 * px, zorder=0.5)
ax.barh([r[0] for r in recovery], 1, height=[r[1] - r[0] for r in recovery], align='edge', color='black', zorder=1)

# ---- B
ax = panel(403, 853)
ax.set_xlim(0.808, 2.5)
y_axis(ax)
x_axis(ax, density_grid, density_ticks, ['1', '1.5', '2'], pads=[8 * px, 15 * px, 8 * px])
d = np.array(density_dense)
for k, dy in enumerate((-1.0, 0.0, 1.0)):  # each streak is a short stack of dot rows
    lc = ax.hlines(d[:, 0] + dy, d[:, 1] + 0.012 * (k % 2), d[:, 2] - 0.012 * (k % 2), color='black', lw=4 * px,
                   linestyles=[(0, (0.01, 1.5))], zorder=1)
    lc.set_capstyle('round')
s = np.array(density_sparse)
lc = ax.hlines(s[:, 0], s[:, 1], s[:, 2], color='black', lw=4 * px, linestyles=[(0, (0.01, 4.0))], zorder=1)
lc.set_capstyle('round')
o = np.array(density_outliers)
ax.plot(o[:, 1], o[:, 0], 'o', color='black', ms=4.5 * px, zorder=1)
dt = np.array(density_twt)
dv = np.array(density_val)
mask = (dt > 800) & (dt < 1316)
ax.plot(dv[mask], dt[mask], 'o', mfc='#CD5C5C', mec='black', mew=5 * px, ms=22 * px, zorder=1.5)
ax.plot(dv, dt, color='#009E73', lw=17 * px, solid_joinstyle='bevel', solid_capstyle='butt', zorder=2)

# ---- C
ax = panel(926, 1375)
ax.set_xlim(1.399, 2.505)
y_axis(ax)
x_axis(ax, velocity_grid, velocity_grid, ['1.5', '2.0', '2.5'])
vd = np.array(velocity_dots)
ax.plot(vd[:, 1], vd[:, 0], 'o', color='black', ms=4.5 * px, zorder=1)
vp = np.array(velocity_points)
ax.plot(vp[:, 1], vp[:, 0], 'o', mfc='#CD5C5C', mec='black', mew=5 * px, ms=25 * px, zorder=1.2)
ax.plot([2.5], [1541], 'o', color='red', ms=12 * px, zorder=1.3)
ax.plot(orange_val, orange_twt, color='#F58220', lw=20 * px, solid_joinstyle='round', zorder=1.6)
ax.plot(blue_val, blue_twt, color='#56B4E9', lw=18 * px, solid_joinstyle='round', zorder=1.8)

# ---- D
ax = panel(1467, 1916)
ax.set_xlim(1.576, 5.098)
y_axis(ax, ylim=YLIM_D, shift=-3.5)
x_axis(ax, impedance_grid, impedance_ticks, ['2', '4'])
ax.plot(impedance_val, impedance_twt, color='#CC79A7', lw=18 * px, solid_joinstyle='round', zorder=2, clip_on=False)

# ---- E and F
def traces(ax, offs, pairs, pos, neg, base, base_lw, edge, edge_lw, clip, base_from, base_on_top):
    p = np.array(pairs, float)
    t, a = p[:, 0], p[:, 1]
    for b in offs:
        ax.fill_betweenx(t, b, b + a, where=a >= 0, interpolate=True, facecolor=pos, edgecolor='none', zorder=3, clip_on=clip)
        ax.fill_betweenx(t, b, b + a, where=a <= 0, interpolate=True, facecolor=neg, edgecolor='none', zorder=3, clip_on=clip)
        ax.plot([b, b], [base_from, t[-1]], color=base, lw=base_lw, zorder=3.3 if base_on_top else 3.05, clip_on=clip)
        ax.plot(b + a, t, color=edge, lw=edge_lw, zorder=3.1, clip_on=clip)

axE = panel(1993, 2259, z=5)
axE.set_xlim(0, 266)
y_axis(axE, grey=False)
axE.set_xticks([])
for b0, b1 in highlight_bands:
    axE.axhspan(b0, b1, color='#FEF89B', lw=0, zorder=0.5)
traces(axE, synthetic_offsets, synthetic, '#D55E00', '#1E90FF', '#1010E0', 1.6 * px, 'black', 2 * px, False, 793, False)

axF = panel(2259, 2544, z=2)
axF.set_xlim(0, 285)
y_axis(axF)
axF.tick_params(axis='y', which='major', left=False)
axF.set_xticks([])
for b0, b1 in highlight_bands:
    axF.axhspan(b0, b1, color='#FEF89B', lw=0, zorder=0.5)
traces(axF, extracted_offsets, extracted, '#CD5C5C', '#1E90FF', '#AAAAAA', 2.4 * px, '#444444', 1.2 * px, True, 750.8, True)

# ---- G
ax = panel(2598, 2721, top=152, bottom=3203)
ax.set_xlim(0, 1)
ax.set_ylim(1580.6, 750.2)
ax.set_xticks([])
ax.set_yticks(g_ticks)
ax.set_yticklabels([])
ax.tick_params(axis='y', which='major', direction='out', left=True, right=False, length=30 * px, width=7 * px, color=INK)
ax.set_yticks(depth_twt, minor=True)
ax.set_yticklabels([str(v) for v in depth_labels], minor=True)
ax.tick_params(axis='y', which='minor', direction='out', left=False, right=True, labelleft=False, labelright=True,
               length=28 * px, width=7 * px, color=GREY, labelcolor=GREY, labelsize=29, pad=6 * px)
for top, bot, col in zip(unit_tops, unit_bottoms, unit_colors):
    ax.add_patch(Rectangle((0, top), 1, bot - top, facecolor=col, edgecolor='none', zorder=1))
for edge in unit_tops + [unit_bottoms[-1]]:
    ax.axhline(edge, color=INK, lw=7 * px, zorder=1.5)
ax.add_patch(Rectangle((0.024, archaeos_span[0]), 0.992, archaeos_span[1] - archaeos_span[0], facecolor='#F58220',
                       edgecolor=INK, lw=6 * px, linestyle=(0, (5, 1.5)), zorder=3, clip_on=False))

def ptext(x, y, s, **kw):
    kw.setdefault('color', INK)
    kw.setdefault('ha', 'center')
    kw.setdefault('va', 'center')
    return fig.text(x / W, 1 - y / H, s, **kw)

ptext(2657, 739, unit_names[0], rotation=-90, fontsize=38)
ptext(2657, 2057, unit_names[2], rotation=-90, fontsize=38)
ptext(2657, 2877, unit_names[3], rotation=-90, fontsize=38)
ptext(2747, 1311, unit_names[1], ha='left', fontsize=39)
ptext(2747, 1071, 'Archaeos', ha='left', fontsize=40)
ptext(2807, 1783, 'Depth\n(mbsf)', rotation=-90, fontsize=38, color=GREY, linespacing=1.1)

# shark icon outline
shark_x = [1042,1060,1085,1097,1103,1125,1135,1160,1152,1161,1135,1122,1118,1110,1085,1088,1075,1055]
shark_y = [153,145,140,130,142,148,152,138,155,172,158,160,165,162,170,182,170,163]
shark = [((xx / 1.449 + 1900) / W, 1 - (yy / 1.568 + 100) / H) for xx, yy in zip(shark_x, shark_y)]
fig.add_artist(Polygon(shark, closed=True, facecolor='black', edgecolor='none', transform=fig.transFigure, zorder=10))

# ---- text
ptext(1467, 34, 'Core-Seismic Integration Site U1599', fontsize=40)
ptext(58, 1694, 'TWT (ms)', rotation=90, fontsize=40)
for name, x in zip('ABCDEFG', [131, 403, 935, 1467, 1997, 2270, 2606]):
    ptext(x, 133, name, ha='left', va='baseline', fontsize=38, fontweight='bold')
ptext(188, 3302, 'Recovery', fontsize=29.5)
ptext(620, 3302, 'Density (g/cm³)', fontsize=30)
ptext(1160, 3302, 'P-Wave V elocity (km/s)', fontsize=30)
ptext(1681, 3302, 'Impedance (m/s x kg/cm³)', fontsize=30)
ptext(2121, 3298, 'Synthetic\nSeismogram', fontsize=30, linespacing=1.15)
ptext(2433, 3298, 'Extracted\nSeismogram', fontsize=30, linespacing=1.15)

fig.savefig('out.png', dpi=DPI, facecolor='white')
